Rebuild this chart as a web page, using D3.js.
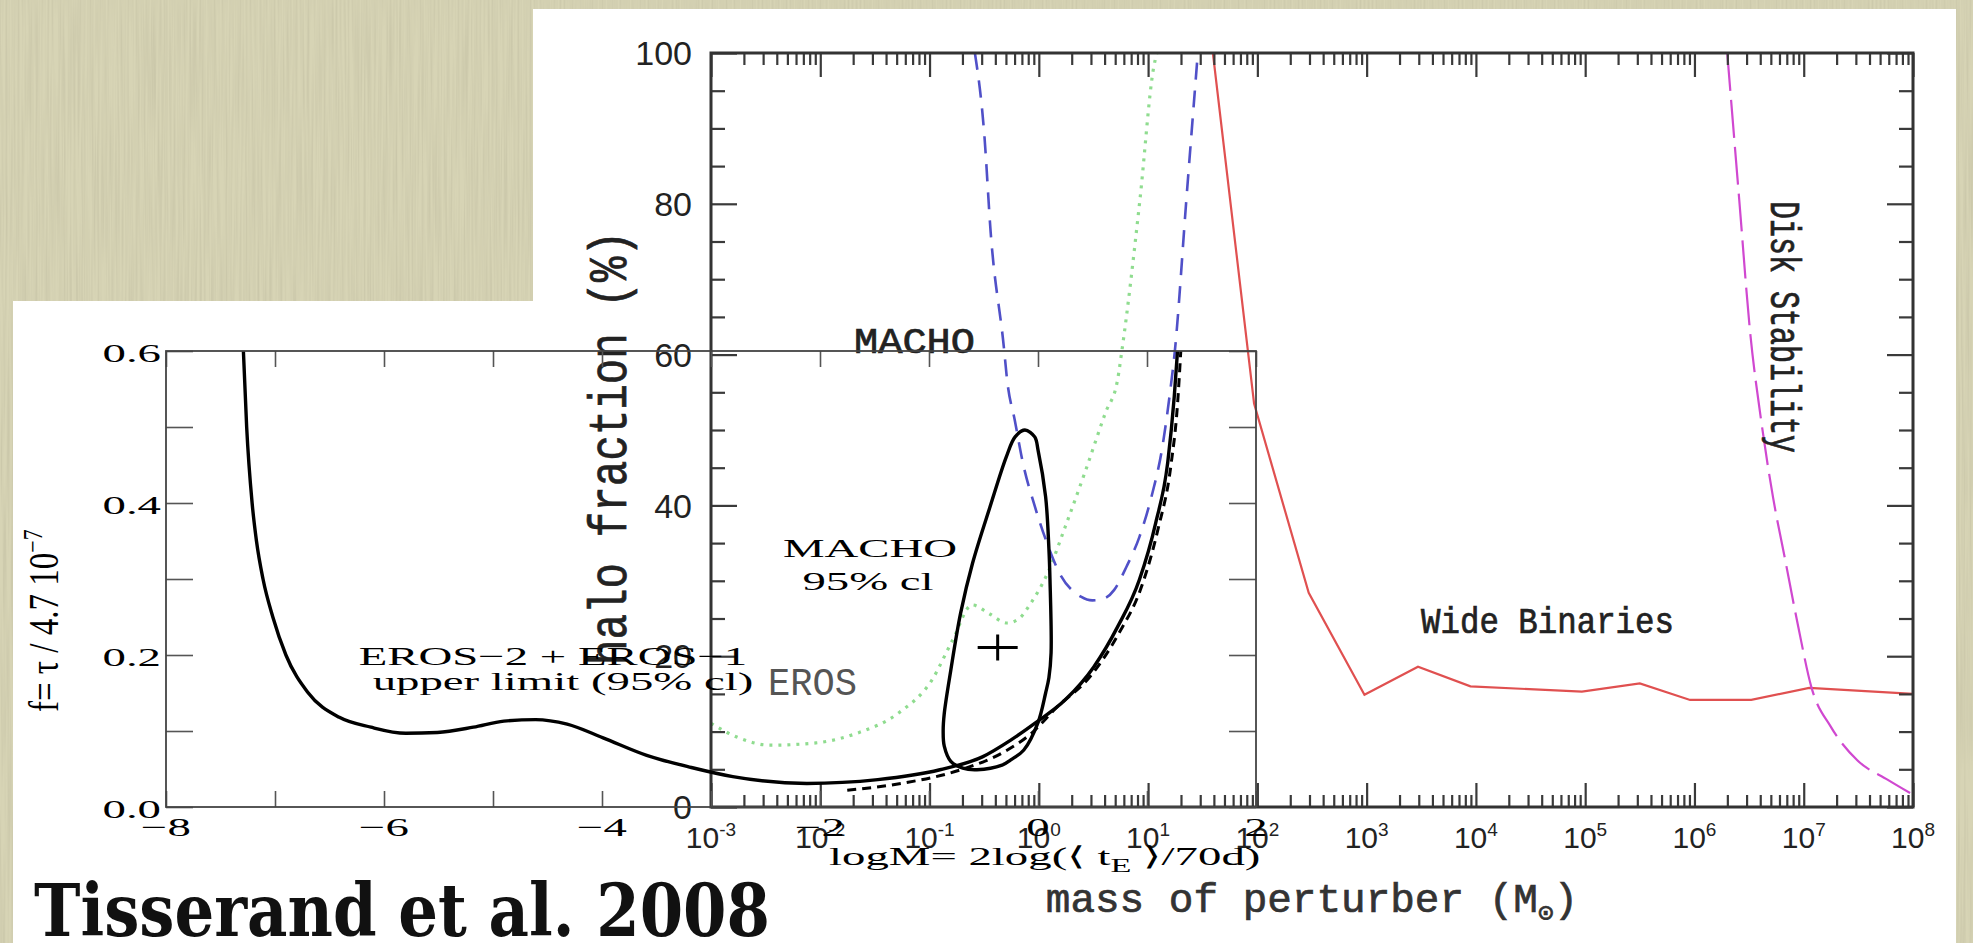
<!DOCTYPE html>
<html><head><meta charset="utf-8">
<script src="https://cdn.jsdelivr.net/npm/d3@7"></script>
<style>html,body{margin:0;padding:0;background:#d7d4b5;overflow:hidden}</style>
</head><body>
<svg id="c" width="1973" height="943"></svg>
<script>
// ---------- data ----------
const bigYTicks = [0, 20, 40, 60, 80, 100];
const bigXExponents = [-3, -2, -1, 0, 1, 2, 3, 4, 5, 6, 7, 8];
const smallYTicks = [0, 0.2, 0.4, 0.6];
const smallYTickLabels = ["0.0", "0.2", "0.4", "0.6"];
const smallXTicks = [-8, -6, -4, -2, 0, 2];
const smallXTickLabels = ["\u22128", "\u22126", "\u22124", "\u22122", "0", "2"];

// big chart: [log10 mass of perturber (Msun), halo fraction %]
const machoLimit = [[-0.585,100],[-0.50,89.4],[-0.44,76.1],[-0.32,61.0],[-0.29,56.6],[-0.22,51.3],[-0.145,45.6],[-0.035,39.8],[0.065,35.4],[0.19,31.0],[0.385,27.9],[0.49,27.4],[0.59,27.6],[0.69,28.8],[0.80,31.8],[0.92,35.8],[1.03,41.1],[1.13,47.7],[1.20,54.9],[1.245,60.5],[1.35,80.5],[1.455,100]];
const erosLimit = [[-3.0,11.1],[-2.75,9.2],[-2.46,8.2],[-2.04,8.5],[-1.66,9.8],[-1.28,12.5],[-0.98,16.8],[-0.79,22.1],[-0.61,26.8],[-0.45,25.6],[-0.29,24.4],[-0.18,25.0],[-0.07,27.1],[0.08,31.0],[0.24,37.1],[0.42,44.3],[0.61,52.3],[0.72,56.6],[0.76,60.5],[0.925,80.5],[1.05,98],[1.08,100]];
const wideBinaries = [[1.593,100],[1.97,53.5],[2.47,28.4],[2.98,14.9],[3.47,18.6],[3.95,16.0],[4.97,15.3],[5.50,16.4],[5.96,14.2],[6.52,14.2],[7.05,15.8],[8.0,15.0]];
const diskStability = [[6.30,100],[6.41,80.5],[6.51,62.9],[6.61,51.3],[6.72,41.0],[6.83,32.8],[6.95,23.9],[7.07,15.9],[7.25,10.6],[7.49,6.2],[7.77,3.6],[7.98,1.8]];

// small chart: [logM, f]
const erosUpperLimit = [[-7.29,0.60],[-7.26,0.50],[-7.21,0.40],[-7.17,0.35],[-7.11,0.30],[-7.02,0.25],[-6.90,0.20],[-6.70,0.151],[-6.41,0.118],[-6.12,0.105],[-5.80,0.097],[-5.51,0.098],[-5.18,0.105],[-4.90,0.113],[-4.61,0.115],[-4.32,0.109],[-3.99,0.091],[-3.59,0.068],[-3.18,0.052],[-2.80,0.040],[-2.12,0.031],[-1.47,0.036],[-0.90,0.049],[-0.51,0.066],[-0.25,0.088],[-0.03,0.110],[0.25,0.141],[0.51,0.184],[0.73,0.237],[0.93,0.299],[1.08,0.374],[1.19,0.453],[1.25,0.54],[1.28,0.60]];
const erosUpperAlt = [[-1.75,0.022],[-1.30,0.030],[-0.71,0.049],[-0.33,0.071],[-0.06,0.097],[0.17,0.131],[0.48,0.172],[0.74,0.228],[0.95,0.290],[1.10,0.365],[1.22,0.450],[1.28,0.530],[1.31,0.60]];
const machoContour = [[-0.12,0.496],[-0.03,0.487],[0.0,0.470],[0.07,0.408],[0.10,0.34],[0.11,0.299],[0.12,0.203],[0.10,0.17],[0.07,0.150],[0.0,0.111],[-0.13,0.075],[-0.25,0.062],[-0.33,0.055],[-0.56,0.049],[-0.69,0.051],[-0.80,0.060],[-0.86,0.080],[-0.87,0.10],[-0.86,0.123],[-0.80,0.180],[-0.71,0.255],[-0.60,0.321],[-0.44,0.395],[-0.29,0.461],[-0.21,0.487]];
const machoBest = [-0.37, 0.21];

// ---------- drawing ----------
const W = 1973, H = 943;
const svg = d3.select("#c");
const defs = svg.append("defs");

const tex = defs.append("filter").attr("id","tex").attr("x",0).attr("y",0).attr("width","100%").attr("height","100%");
tex.append("feTurbulence").attr("type","fractalNoise").attr("baseFrequency","0.5 0.008").attr("numOctaves",2).attr("seed",4);
tex.append("feColorMatrix").attr("type","matrix").attr("values","0 0 0 0 0.45  0 0 0 0 0.43  0 0 0 0 0.30  0.7 0 0 0 -0.24");

svg.append("rect").attr("width",W).attr("height",H).attr("fill","#d7d4b5");
svg.append("rect").attr("width",W).attr("height",H).attr("filter","url(#tex)");

// white panels
svg.append("rect").attr("x",13).attr("y",301).attr("width",560).attr("height",H-301).attr("fill","#fff");
svg.append("rect").attr("x",533).attr("y",9).attr("width",1956-533).attr("height",H-9).attr("fill","#fff");

// scales
const xBig = d3.scaleLog().domain([1e-3, 1e8]).range([711, 1913]);
const yBig = d3.scaleLinear().domain([0, 100]).range([807, 53]);
const xSm = d3.scaleLinear().domain([-8, 2]).range([166, 1256]);
const ySm = d3.scaleLinear().domain([0, 0.6]).range([807, 351]);

defs.append("clipPath").attr("id","clipBig").append("rect")
  .attr("x",711).attr("y",53).attr("width",1913-711).attr("height",807-53);
defs.append("clipPath").attr("id","clipSm").append("rect")
  .attr("x",166).attr("y",351).attr("width",1256-166).attr("height",807-351);

const lineBig = d3.line().x(d => xBig(Math.pow(10, d[0]))).y(d => yBig(d[1])).curve(d3.curveMonotoneX);
const lineBigLin = d3.line().x(d => xBig(Math.pow(10, d[0]))).y(d => yBig(d[1]));

const gBig = svg.append("g");
const gCurves = gBig.append("g").attr("clip-path","url(#clipBig)");
gCurves.append("path").datum(erosLimit).attr("d", lineBig).attr("fill","none")
  .attr("stroke","#8fdc8f").attr("stroke-width",3.2).attr("stroke-dasharray","3 6");
gCurves.append("path").datum(machoLimit).attr("d", lineBig).attr("fill","none")
  .attr("stroke","#5050c8").attr("stroke-width",2.6).attr("stroke-dasharray","17 11");
gCurves.append("path").datum(wideBinaries).attr("d", lineBigLin).attr("fill","none")
  .attr("stroke","#e05050").attr("stroke-width",2.2);
gCurves.append("path").datum(diskStability).attr("d", lineBig).attr("fill","none")
  .attr("stroke","#d048d0").attr("stroke-width",2.2).attr("stroke-dasharray","38 9");

// big axes
const majorX = bigXExponents.map(e => Math.pow(10, e));
const minorX = [];
for (let e = -3; e < 8; e++) for (let k = 2; k <= 9; k++) minorX.push(k * Math.pow(10, e));
const minorY = d3.range(5, 100, 5).filter(v => v % 20 !== 0);
function styleBig(g) {
  g.select(".domain").remove();
  g.selectAll("text").remove();
  g.selectAll("line").attr("stroke","#3a3a3a").attr("stroke-width",2.2);
}
gBig.append("g").attr("transform","translate(0,807)").call(d3.axisBottom(xBig).tickValues(majorX).tickSize(-24).tickFormat("")).call(styleBig);
gBig.append("g").attr("transform","translate(0,807)").call(d3.axisBottom(xBig).tickValues(minorX).tickSize(-12).tickFormat("")).call(styleBig);
gBig.append("g").attr("transform","translate(0,53)").call(d3.axisTop(xBig).tickValues(majorX).tickSize(-24).tickFormat("")).call(styleBig);
gBig.append("g").attr("transform","translate(0,53)").call(d3.axisTop(xBig).tickValues(minorX).tickSize(-12).tickFormat("")).call(styleBig);
gBig.append("g").attr("transform","translate(711,0)").call(d3.axisLeft(yBig).tickValues(bigYTicks).tickSize(-26).tickFormat("")).call(styleBig);
gBig.append("g").attr("transform","translate(711,0)").call(d3.axisLeft(yBig).tickValues(minorY).tickSize(-14).tickFormat("")).call(styleBig);
gBig.append("g").attr("transform","translate(1913,0)").call(d3.axisRight(yBig).tickValues(bigYTicks).tickSize(-26).tickFormat("")).call(styleBig);
gBig.append("g").attr("transform","translate(1913,0)").call(d3.axisRight(yBig).tickValues(minorY).tickSize(-14).tickFormat("")).call(styleBig);
gBig.append("rect").attr("x",711).attr("y",53).attr("width",1913-711).attr("height",807-53)
  .attr("fill","none").attr("stroke","#333").attr("stroke-width",3);

// big tick labels
gBig.selectAll("text.yl").data(bigYTicks).enter().append("text")
  .attr("x",692).attr("y",d => yBig(d)).attr("dy","0.36em").attr("text-anchor","end")
  .attr("font-family","Liberation Sans, Arial, sans-serif").attr("font-size",34).attr("fill","#222")
  .text(d => d);
bigXExponents.forEach(e => {
  const t = gBig.append("text").attr("x", xBig(Math.pow(10, e))).attr("y", 848)
    .attr("text-anchor","middle").attr("font-family","Liberation Sans, Arial, sans-serif").attr("fill","#222");
  t.append("tspan").attr("font-size",30).text("10");
  t.append("tspan").attr("font-size",19).attr("dy",-12).text(e < 0 ? "-" + (-e) : String(e));
});

// big chart axis titles and labels
const mono = "Liberation Mono, Courier New, DejaVu Sans Mono, monospace";
function heavy(sel, c) { return sel.attr("stroke", c).attr("stroke-width", 0.7); }
heavy(gBig.append("text").attr("transform","translate(626,448) rotate(-90)").attr("text-anchor","middle")
  .attr("font-family",mono).attr("font-size",54).attr("fill","#222")
  .attr("textLength",434).attr("lengthAdjust","spacingAndGlyphs").text("halo fraction (%)"), "#222");
const xl = heavy(gBig.append("text").attr("x",1312).attr("y",912).attr("text-anchor","middle")
  .attr("font-family",mono).attr("font-size",41).attr("fill","#333"), "#333");
xl.append("tspan").text("mass of perturber (M");
xl.append("tspan").attr("font-size",26).attr("dy",9).attr("font-family","DejaVu Sans Mono, monospace").text("\u2299");
xl.append("tspan").attr("dy",-9).text(")");
heavy(gBig.append("text").attr("x",854).attr("y",353).attr("font-family",mono).attr("font-size",36)
  .attr("fill","#222").attr("textLength",121).attr("lengthAdjust","spacingAndGlyphs").text("MACHO"), "#222");
gBig.append("text").attr("x",768).attr("y",695).attr("font-family",mono).attr("font-size",38)
  .attr("fill","#555").attr("textLength",89).attr("lengthAdjust","spacingAndGlyphs").text("EROS");
heavy(gBig.append("text").attr("x",1421).attr("y",633).attr("font-family",mono).attr("font-size",36)
  .attr("fill","#222").attr("textLength",253).attr("lengthAdjust","spacingAndGlyphs").text("Wide Binaries"), "#222");
heavy(gBig.append("text").attr("transform","translate(1771,201) rotate(90)").attr("font-family",mono).attr("font-size",42)
  .attr("fill","#222").attr("textLength",252).attr("lengthAdjust","spacingAndGlyphs").text("Disk Stability"), "#222");

// ---------- small chart (overlay) ----------
const gSm = svg.append("g");
const lineSm = d3.line().x(d => xSm(d[0])).y(d => ySm(d[1])).curve(d3.curveMonotoneX);
const gSc = gSm.append("g").attr("clip-path","url(#clipSm)");
gSc.append("path").datum(erosUpperAlt).attr("d", lineSm).attr("fill","none")
  .attr("stroke","#000").attr("stroke-width",3).attr("stroke-dasharray","9 6");
gSc.append("path").datum(erosUpperLimit).attr("d", lineSm).attr("fill","none")
  .attr("stroke","#000").attr("stroke-width",3.4);
gSc.append("path").datum(machoContour)
  .attr("d", d3.line().x(d => xSm(d[0])).y(d => ySm(d[1])).curve(d3.curveCatmullRomClosed.alpha(0.5)))
  .attr("fill","none").attr("stroke","#000").attr("stroke-width",3.4);
const bx = xSm(machoBest[0]), by = ySm(machoBest[1]);
gSm.append("path").attr("d", `M${bx-20},${by}H${bx+20}M${bx},${by-13}V${by+13}`)
  .attr("stroke","#000").attr("stroke-width",3);

function styleSm(g) {
  g.select(".domain").remove();
  g.selectAll("text").remove();
  g.selectAll("line").attr("stroke","#555").attr("stroke-width",1.6);
}
const yMinorSm = d3.range(0, 7).map(i => i / 10);
const xMinorSm = d3.range(-8, 3);
gSm.append("g").attr("transform","translate(166,0)").call(d3.axisLeft(ySm).tickValues(yMinorSm).tickSize(-27).tickFormat("")).call(styleSm);
gSm.append("g").attr("transform","translate(1256,0)").call(d3.axisRight(ySm).tickValues(yMinorSm).tickSize(-27).tickFormat("")).call(styleSm);
gSm.append("g").attr("transform","translate(0,807)").call(d3.axisBottom(xSm).tickValues(xMinorSm).tickSize(-16).tickFormat("")).call(styleSm);
gSm.append("g").attr("transform","translate(0,351)").call(d3.axisTop(xSm).tickValues(xMinorSm).tickSize(-16).tickFormat("")).call(styleSm);
gSm.append("rect").attr("x",166).attr("y",351).attr("width",1256-166).attr("height",807-351)
  .attr("fill","none").attr("stroke","#444").attr("stroke-width",1.8);

const serif = "Liberation Serif, Times New Roman, serif";
const SX = 1.8;
smallYTicks.forEach((v, i) => {
  gSm.append("text").attr("transform",`translate(161,${ySm(v) + 11}) scale(${SX},1)`)
    .attr("text-anchor","end").attr("font-family",serif).attr("font-size",26).attr("fill","#000")
    .text(smallYTickLabels[i]);
});
smallXTicks.forEach((v, i) => {
  gSm.append("text").attr("transform",`translate(${xSm(v)},836) scale(${SX},1)`)
    .attr("text-anchor","middle").attr("font-family",serif).attr("font-size",26).attr("fill","#000")
    .text(smallXTickLabels[i]);
});
function smText(x, y, s, anchor) {
  return gSm.append("text").attr("transform",`translate(${x},${y}) scale(${SX},1)`)
    .attr("text-anchor",anchor || "start").attr("font-family",serif).attr("font-size",26).attr("fill","#000").text(s);
}
smText(553, 665, "EROS\u22122 + EROS\u22121", "middle");
smText(563, 690, "upper limit (95% cl)", "middle");
smText(870, 557, "MACHO", "middle");
smText(868, 590, "95% cl", "middle");
const lx = gSm.append("text").attr("transform",`translate(829,865) scale(${SX},1)`)
  .attr("font-family",serif).attr("font-size",26).attr("fill","#000");
lx.append("tspan").text("logM= 2log(\u27E8 t");
lx.append("tspan").attr("font-size",19).attr("dy",7).text("E");
lx.append("tspan").attr("dy",-7).text(" \u27E9/70d)");
const ly = gSm.append("text").attr("transform","translate(58,712) rotate(-90) scale(1,1.25)")
  .attr("font-family",serif).attr("font-size",33).attr("fill","#000");
ly.append("tspan").text("f= \u03C4 / 4.7 10");
ly.append("tspan").attr("font-size",22).attr("dy",-13).text("\u22127");

// title
svg.append("text").attr("x",34).attr("y",936).attr("font-family","DejaVu Serif, serif").attr("font-weight","bold")
  .attr("font-size",72).attr("fill","#111").attr("textLength",736).attr("lengthAdjust","spacingAndGlyphs")
  .text("Tisserand et al. 2008");
</script>
</body></html>
